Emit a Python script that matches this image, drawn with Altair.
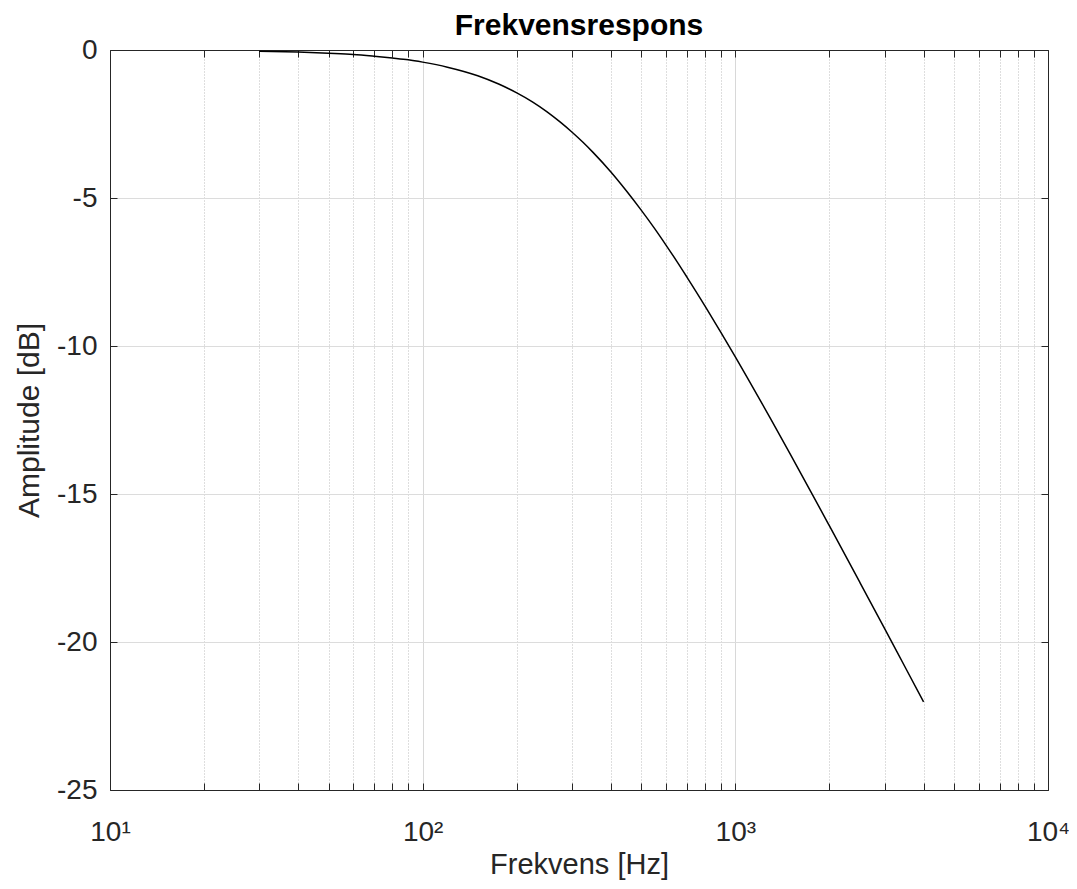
import altair as alt
import pandas as pd

# Values (frequency in Hz, amplitude in dB)
freq_hz = [30, 40, 50, 60, 70, 80, 90, 100, 120, 150, 175, 200, 225, 250, 275, 300,
           325, 350, 400, 450, 500, 550, 600, 650, 700, 800, 900, 1000, 1100, 1200,
           1300, 1500, 1750, 2000, 2500, 3000, 3500, 4000]
amp_db = [-0.04, -0.07, -0.11, -0.15, -0.21, -0.27, -0.33, -0.41, -0.58, -0.87, -1.15,
          -1.45, -1.76, -2.09, -2.43, -2.77, -3.11, -3.45, -4.12, -4.78, -5.41, -6.01,
          -6.59, -7.14, -7.67, -8.65, -9.55, -10.37, -11.13, -11.83, -12.48, -13.66,
          -14.95, -16.08, -17.98, -19.54, -20.87, -22.02]

x_ticks = [10, 20, 30, 40, 50, 60, 70, 80, 90,
           100, 200, 300, 400, 500, 600, 700, 800, 900,
           1000, 2000, 3000, 4000, 5000, 6000, 7000, 8000, 9000, 10000]
decades = [10, 100, 1000, 10000]
decade_labels = ["10\u00b9", "10\u00b2", "10\u00b3", "10\u2074"]
y_ticks = [-25, -20, -15, -10, -5, 0]

title_text = "Frekvensrespons"
x_title = "Frekvens [Hz]"
y_title = "Amplitude [dB]"

df = pd.DataFrame({"f": freq_hz, "a": amp_db})

FONT = "Liberation Sans"
AXC = "#262626"

label_expr = " : ".join(
    f"datum.value == {d} ? '{l}'" for d, l in zip(decades, decade_labels)
) + " : ''"
is_decade = "indexof([" + ",".join(str(d) for d in decades) + "], datum.value) >= 0"

xscale = alt.Scale(type="log", domain=[10, 10000], nice=False)
yscale = alt.Scale(domain=[-25, 0], nice=False, zero=False)

main = alt.Chart(df).mark_line(color="#000000", strokeWidth=1.5, interpolate="monotone").encode(
    x=alt.X("f:Q", scale=xscale, title=x_title,
            axis=alt.Axis(orient="bottom", values=x_ticks, labelExpr=label_expr,
                          grid=True,
                          gridColor=alt.condition(is_decade, alt.value("#d8d8d8"), alt.value("#bdbdbd")),
                          gridDash=alt.condition(is_decade, alt.value([]), alt.value([1, 2])),
                          gridOpacity=1, gridWidth=1,
                          tickSize=alt.ExprRef("-7"), tickColor=AXC, tickWidth=1,
                          domainColor=AXC, labelColor=AXC, labelFont=FONT, labelFontSize=28,
                          labelPadding=57, labelBaseline="alphabetic",
                          labelFlush=False, labelOverlap=False,
                          titleFont=FONT, titleFontSize=29, titleFontWeight="normal",
                          titleColor=AXC, titlePadding=4)),
    y=alt.Y("a:Q", scale=yscale, title=y_title,
            axis=alt.Axis(orient="left", values=y_ticks, labelExpr="'' + datum.value",
                          grid=True, gridColor="#dcdcdc", gridOpacity=1,
                          tickSize=alt.ExprRef("-7"), tickColor=AXC,
                          domainColor=AXC, labelColor=AXC, labelFont=FONT, labelFontSize=28,
                          labelPadding=20, labelFlush=False,
                          titleFont=FONT, titleFontSize=30, titleFontWeight="normal",
                          titleColor=AXC, titlePadding=12)),
)

frame = alt.Chart(df).mark_line(opacity=0).encode(
    x=alt.X("f:Q", scale=xscale, title=None,
            axis=alt.Axis(orient="top", values=x_ticks, labels=False, grid=False,
                          tickSize=alt.ExprRef("-7"), tickColor=AXC, domainColor=AXC)),
    y=alt.Y("a:Q", scale=yscale, title=None,
            axis=alt.Axis(orient="right", values=y_ticks, labels=False, grid=False,
                          tickSize=alt.ExprRef("-7"), tickColor=AXC, domainColor=AXC)),
)

chart = alt.layer(main, frame).resolve_axis(x="independent", y="independent").properties(
    width=938, height=740,
    title=alt.TitleParams(title_text, font=FONT, fontSize=30, fontWeight="bold",
                          color="#000000", anchor="middle", offset=-5),
    autosize=alt.AutoSizeParams(type="none"),
    padding={"left": 102, "top": 42, "right": 21, "bottom": 91},
).configure_view(stroke=AXC, strokeWidth=1).configure(background="white")

chart.save("out.html", embed_options={"renderer": "svg", "actions": False})
